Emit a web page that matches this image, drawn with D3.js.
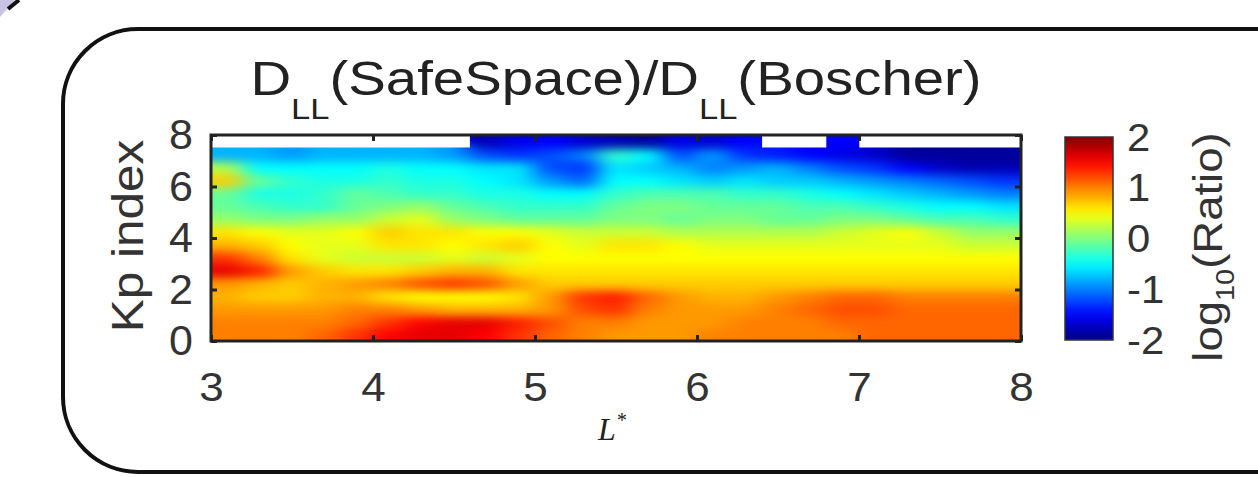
<!DOCTYPE html>
<html>
<head>
<meta charset="utf-8">
<script src="https://cdn.jsdelivr.net/npm/d3@7"></script>
<style>
body { margin: 0; background: #fff; }
</style>
</head>
<body>
<svg width="1258" height="477" font-family="Liberation Sans, Arial, sans-serif"></svg>
<script>
// cell edges
var lEdges = [3.0,3.2,3.4,3.6,3.8,4.0,4.2,4.4,4.6,4.8,5.0,5.2,5.4,5.6,5.8,6.0,6.2,6.4,6.6,6.8,7.0,7.2,7.4,7.6,7.8,8.0];
var kpEdges = [0,0.5,1,1.5,2,2.5,3,3.5,4,4.5,5,5.5,6,6.5,7,7.5,8];

// log10(ratio), one row per Kp band, bottom row first
var ratio = [
  [1.0,1.0,1.0,1.1,1.3,1.5,1.6,1.6,1.5,1.3,1.1,1.0,0.9,0.9,0.9,1.0,1.0,1.0,1.0,1.0,1.1,1.1,1.1,1.1,1.1],
  [1.0,1.0,1.0,1.0,1.1,1.3,1.5,1.6,1.6,1.4,1.2,1.0,1.0,0.9,0.9,0.9,1.0,1.0,1.0,1.1,1.1,1.1,1.1,1.1,1.1],
  [0.9,0.9,0.9,0.9,1.0,1.0,0.9,0.8,0.8,0.8,0.9,1.2,1.3,1.0,0.9,0.9,0.9,1.0,1.1,1.2,1.2,1.1,1.1,1.1,1.1],
  [0.8,0.7,0.7,0.8,0.8,0.6,0.5,0.5,0.5,0.6,0.9,1.3,1.4,1.1,0.9,0.8,0.8,0.9,1.0,1.1,1.1,1.0,1.0,1.0,1.0],
  [0.9,0.8,0.7,0.8,0.9,1.0,1.2,1.3,1.2,0.9,0.7,0.7,0.7,0.7,0.7,0.7,0.7,0.7,0.7,0.7,0.7,0.7,0.7,0.7,0.7],
  [1.6,1.4,0.9,0.7,0.6,0.6,0.7,0.8,0.8,0.6,0.6,0.6,0.6,0.6,0.6,0.6,0.6,0.6,0.6,0.6,0.6,0.6,0.6,0.6,0.6],
  [1.3,1.0,0.6,0.4,0.3,0.3,0.3,0.4,0.3,0.4,0.5,0.5,0.5,0.5,0.5,0.5,0.5,0.5,0.5,0.5,0.5,0.5,0.5,0.5,0.5],
  [0.8,0.7,0.5,0.4,0.4,0.6,0.6,0.5,0.6,0.7,0.5,0.4,0.6,0.6,0.5,0.4,0.4,0.4,0.4,0.4,0.4,0.4,0.4,0.3,0.3],
  [0.6,0.5,0.4,0.4,0.5,0.7,0.6,0.6,0.5,0.5,0.4,0.3,0.3,0.3,0.2,0.2,0.2,0.2,0.2,0.3,0.4,0.5,0.3,0.1,0.1],
  [0.1,0.0,0.0,0.1,0.1,0.3,0.4,0.1,0.0,-0.1,-0.1,-0.1,0.0,0.0,-0.1,0.0,0.0,-0.1,-0.1,0.0,0.0,-0.1,-0.2,-0.2,-0.3],
  [-0.1,-0.2,-0.3,-0.3,-0.1,0.0,0.1,-0.1,-0.2,-0.3,-0.3,-0.3,-0.1,0.0,0.0,-0.1,-0.1,-0.1,-0.2,-0.2,-0.3,-0.4,-0.5,-0.5,-0.6],
  [-0.1,-0.4,-0.4,-0.3,-0.1,-0.2,-0.3,-0.3,-0.4,-0.4,-0.5,-0.5,-0.3,-0.2,-0.2,-0.2,-0.3,-0.3,-0.4,-0.5,-0.6,-0.7,-0.8,-0.9,-1.0],
  [0.7,-0.1,-0.3,-0.4,-0.4,-0.3,-0.4,-0.4,-0.5,-0.6,-0.9,-1.1,-0.5,-0.5,-0.6,-0.7,-0.6,-0.7,-0.7,-0.8,-0.9,-1.0,-1.1,-1.2,-1.3],
  [0.2,-0.5,-0.5,-0.5,-0.5,-0.4,-0.5,-0.5,-0.6,-0.6,-1.2,-1.3,-0.6,-0.7,-0.8,-1.0,-0.9,-0.8,-1.0,-1.2,-1.3,-1.5,-1.7,-1.8,-1.8],
  [-0.8,-0.8,-0.9,-0.8,-0.8,-0.8,-0.8,-0.9,-1.2,-1.3,-1.2,-1.0,-0.3,-0.5,-1.2,-0.9,-1.3,-1.4,-1.5,-1.6,-1.7,-1.9,-1.9,-1.9,-1.9],
  [null,null,null,null,null,null,null,null,-1.8,-1.6,-1.5,-1.7,-1.8,-1.9,-1.6,-1.7,-1.5,null,null,-1.5,null,null,null,null,null]
];

var xTicks = [3,4,5,6,7,8];
var yTicks = [0,2,4,6,8];
var cbTicks = [-2,-1,0,1,2];

var svg = d3.select("svg");
var defs = svg.append("defs");

var x = d3.scaleLinear().domain([3,8]).range([211,1021]);
var y = d3.scaleLinear().domain([0,8]).range([341,135]);

// matlab jet
var jet = d3.scaleLinear()
  .domain([-2,-1.5,-0.5,0,0.5,1.5,2])
  .range(["#000080","#0000ff","#00ffff","#80ff80","#ffff00","#ff0000","#800000"])
  .clamp(true);

// outer rounded box + corner bit
svg.append("path").attr("d","M0,0 L15,0 L0,17 Z").attr("fill","#c9c3e3");
svg.append("line").attr("x1",19).attr("y1",0).attr("x2",8).attr("y2",9)
  .attr("stroke","#111").attr("stroke-width",4);
svg.append("rect").attr("x",63).attr("y",29).attr("width",1320).attr("height",443)
  .attr("rx",75).attr("fill","none").attr("stroke","#111").attr("stroke-width",4);

// cells
var cells = [];
ratio.forEach(function(row, j) {
  row.forEach(function(v, i) {
    if (v !== null) cells.push({i: i, j: j, v: v});
  });
});

var filt = defs.append("filter").attr("id","smooth")
  .attr("filterUnits","userSpaceOnUse")
  .attr("x",150).attr("y",100).attr("width",950).attr("height",300)
  .attr("color-interpolation-filters","sRGB");
filt.append("feGaussianBlur").attr("stdDeviation","11 5");
filt.append("feComponentTransfer").append("feFuncA").attr("type","linear").attr("slope",30);

// one path for the clip so neighbouring cells leave no seams
var clipD = cells.map(function(d) {
  var x0 = x(lEdges[d.i]) - 0.3, x1 = x(lEdges[d.i+1]) + 0.3;
  var y0 = y(kpEdges[d.j+1]) - 0.3, y1 = y(kpEdges[d.j]) + 0.3;
  return "M" + x0 + "," + y0 + "H" + x1 + "V" + y1 + "H" + x0 + "Z";
}).join("");
defs.append("clipPath").attr("id","cellclip").append("path").attr("d", clipD);

var heat = svg.append("g").attr("clip-path","url(#cellclip)")
  .append("g").attr("filter","url(#smooth)");
heat.selectAll("rect").data(cells).enter().append("rect")
  .attr("x", function(d) { return x(lEdges[d.i]) - 1; })
  .attr("y", function(d) { return y(kpEdges[d.j+1]) - 1; })
  .attr("width", function(d) { return x(lEdges[d.i+1]) - x(lEdges[d.i]) + 2; })
  .attr("height", function(d) { return y(kpEdges[d.j]) - y(kpEdges[d.j+1]) + 2; })
  .attr("fill", function(d) { return jet(d.v); });

// axes
function styleAxis(g, sx) {
  g.select(".domain").remove();
  g.selectAll(".tick line").attr("stroke","#222").attr("stroke-width",3);
  g.selectAll(".tick text").attr("fill","#333")
    .attr("transform","scale(" + sx + ",1)");
}
svg.append("g").attr("transform","translate(0,341)")
  .call(d3.axisBottom(x).tickValues(xTicks).tickFormat(d3.format("d")).tickSizeInner(-6).tickSizeOuter(0).tickPadding(30))
  .attr("font-size",40).attr("font-family",null)
  .call(function(g) { styleAxis(g, 1.1); g.selectAll(".tick text").attr("dy","0.71em").attr("y",32); });
svg.append("g").attr("transform","translate(0,135)")
  .call(d3.axisTop(x).tickValues(xTicks).tickFormat("").tickSizeInner(-6).tickSizeOuter(0))
  .call(function(g) { styleAxis(g, 1); });
svg.append("g").attr("transform","translate(211,0)")
  .call(d3.axisLeft(y).tickValues(yTicks).tickFormat(d3.format("d")).tickSizeInner(-6).tickSizeOuter(0).tickPadding(18))
  .attr("font-size",43).attr("font-family",null)
  .call(function(g) { styleAxis(g, 1); });
svg.append("g").attr("transform","translate(1021,0)")
  .call(d3.axisRight(y).tickValues(yTicks).tickFormat("").tickSizeInner(-6).tickSizeOuter(0))
  .call(function(g) { styleAxis(g, 1); });

// frame
svg.append("rect").attr("x",x(3)).attr("y",y(8)).attr("width",x(8)-x(3)).attr("height",y(0)-y(8))
  .attr("fill","none").attr("stroke","#222").attr("stroke-width",3);

// colorbar
var cb = d3.scaleLinear().domain([-2,2]).range([340,137]);
var grad = defs.append("linearGradient").attr("id","jetgrad")
  .attr("x1",0).attr("y1",1).attr("x2",0).attr("y2",0);
grad.selectAll("stop").data(d3.range(0,1.0001,0.05)).enter().append("stop")
  .attr("offset", function(t) { return t; })
  .attr("stop-color", function(t) { return jet(-2 + 4*t); });
svg.append("rect").attr("x",1065).attr("y",cb(2)).attr("width",48).attr("height",cb(-2)-cb(2))
  .attr("fill","url(#jetgrad)").attr("stroke","#333").attr("stroke-width",1.5);
svg.append("g").selectAll("text").data(cbTicks).enter().append("text")
  .attr("transform", function(d) { return "translate(1127," + cb(d) + ") scale(1.1,1)"; })
  .attr("dy","0.36em").attr("font-size",38).attr("fill","#333")
  .text(function(d) { return d; });

var cbl = svg.append("text")
  .attr("transform","translate(1222,247) scale(1,1.11) rotate(-90)")
  .attr("text-anchor","middle").attr("font-size",41).attr("fill","#333");
cbl.append("tspan").text("log");
cbl.append("tspan").attr("font-size",26).attr("dy",12).text("10");
cbl.append("tspan").attr("dy",-12).text("(Ratio)");

// y label
svg.append("text")
  .attr("transform","translate(143,236) scale(1,1.1) rotate(-90)")
  .attr("text-anchor","middle").attr("font-size",45).attr("fill","#333")
  .text("Kp index");

// x label
var xl = svg.append("text").attr("x",612).attr("y",440).attr("text-anchor","middle")
  .attr("font-family","Liberation Serif, Times New Roman, serif").attr("font-style","italic")
  .attr("font-size",32).attr("fill","#222");
xl.append("tspan").text("L");
xl.append("tspan").attr("font-size",20).attr("dy",-13).text("*");

// title
var title = svg.append("text")
  .attr("transform","translate(616,95) scale(1.15,1)")
  .attr("text-anchor","middle").attr("font-size",49).attr("fill","#222");
title.append("tspan").text("D");
title.append("tspan").attr("font-size",30).attr("dy",24).text("LL");
title.append("tspan").attr("dy",-24).text("(SafeSpace)/D");
title.append("tspan").attr("font-size",30).attr("dy",24).text("LL");
title.append("tspan").attr("dy",-24).text("(Boscher)");
</script>
</body>
</html>
